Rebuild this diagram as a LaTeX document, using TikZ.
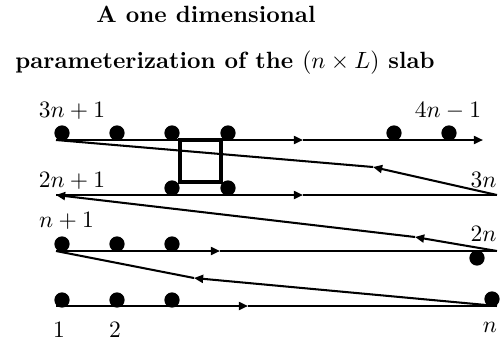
\documentclass[tikz,border=0pt]{standalone}
\usetikzlibrary{arrows.meta}
\begin{document}
\begin{tikzpicture}[x=0.4257pt,y=-0.4257pt, line width=0.87pt,
  tip/.style={-{Triangle[length=3.9pt,width=3.4pt]}},
  dot/.style={circle,fill,inner sep=0pt,minimum size=6.5pt},
  lbl/.style={anchor=base,inner sep=0pt},
  sq/.style={line width=2.1pt}]
\useasboundingbox (0,0) rectangle (503,340);
% title
\node[lbl,font=\bfseries] (t1) at (206,22) {A one dimensional};
\node[lbl,font=\bfseries] (t2) at (225,68) {parameterization of the $(n\times L)$ slab};
% coordinates
\coordinate (s1) at (56,140); \coordinate (m1) at (303,140); \coordinate (e1) at (483,140);
\coordinate (s2) at (56,195); \coordinate (m2) at (303,195); \coordinate (e2) at (497,195);
\coordinate (s3) at (56,251); \coordinate (m3) at (220,251); \coordinate (e3) at (497,251);
\coordinate (s4) at (56,306); \coordinate (m4) at (248,306); \coordinate (e4) at (497,306);
\coordinate (r1) at (194,278);
\coordinate (r2) at (415,237);
\coordinate (r3) at (373,167);
% path
\draw[tip] (s4) -- (m4); \draw (m4) -- (e4);
\draw[tip] (e4) -- (r1); \draw (r1) -- (s3);
\draw[tip] (s3) -- (m3); \draw (m3) -- (e3);
\draw[tip] (e3) -- (r2); \draw[tip] (r2) -- (s2);
\draw[tip] (s2) -- (m2); \draw (m2) -- (e2);
\draw[tip] (e2) -- (r3); \draw (r3) -- (s1);
\draw[tip] (s1) -- (m1); \draw[tip] (m1) -- (e1);
% square
\draw[sq] (180,140) rectangle (221,182);
% dots
\node[dot] (a1) at (62,133) {};
\node[dot] (a2) at (117,133) {};
\node[dot] (a3) at (172,133) {};
\node[dot] (a4) at (228,133) {};
\node[dot] (a5) at (394,133) {};
\node[dot] (a6) at (449,133) {};
\node[dot] (b1) at (172,188) {};
\node[dot] (b2) at (228,188) {};
\node[dot] (c1) at (62,244) {};
\node[dot] (c2) at (117,244) {};
\node[dot] (c3) at (172,244) {};
\node[dot] (c4) at (477,258) {};
\node[dot] (d1) at (62,300) {};
\node[dot] (d2) at (117,300) {};
\node[dot] (d3) at (172,300) {};
\node[dot] (d4) at (492,299) {};
% labels
\node[lbl] (l1) at (72,117) {$3n+1$};
\node[lbl] (l2) at (448,117) {$4n-1$};
\node[lbl] (l3) at (72,187) {$2n+1$};
\node[lbl] (l4) at (483.5,187) {$3n$};
\node[lbl] (l5) at (66.5,227) {$n+1$};
\node[lbl] (l6) at (483.5,241) {$2n$};
\node[lbl] (l7) at (59,337) {$1$};
\node[lbl] (l8) at (115,337) {$2$};
\node[lbl] (l9) at (490,332) {$n$};
\end{tikzpicture}
\end{document}
